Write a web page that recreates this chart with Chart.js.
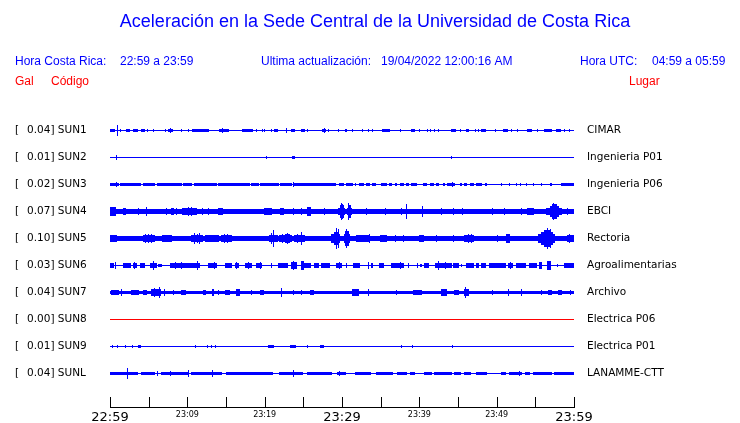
<!DOCTYPE html>
<html><head><meta charset="utf-8">
<script src="https://cdn.jsdelivr.net/npm/chart.js@4.4.1/dist/chart.umd.min.js"></script>
<style>html,body{margin:0;padding:0;background:#fff}#wrap{width:740px;height:423px;position:relative}</style>
</head><body><div id="wrap"><canvas id="c" width="740" height="423"></canvas></div>
<script>
// ---------- data ----------
const chartTitle = 'Aceleración en la Sede Central de la Universidad de Costa Rica';
const localTime = '22:59 a 23:59';
const updated = '19/04/2022 12:00:16 AM';
const utcTime = '04:59 a 05:59';
const codes = ['SUN1','SUN2','SUN3','SUN4','SUN5','SUN6','SUN7','SUN8','SUN9','SUNL'];
const gals = ['0.04','0.01','0.02','0.07','0.10','0.03','0.04','0.00','0.01','0.04'];
const places = ['CIMAR','Ingenieria P01','Ingenieria P06','EBCI','Rectoria','Agroalimentarias','Archivo','Electrica P06','Electrica P01','LANAMME-CTT'];
const tickLabels = ['22:59','','23:09','','23:19','','23:29','','23:39','','23:49','','23:59'];
const majorTicks = [0,6,12];
// background (noise) half-amplitude of each trace, display units
const baseAmp = [0.5,0.5,0.6,2.0,2.0,0.6,1.6,0.5,0.5,0.6];
// bursts: [from minute, to minute, half-amplitude]
const segSUN1 = [[0,0.6,1.3],[0.95,0.95,5.5],[1.3,1.3,1.3],[2.1,2.5,1.3],[3.0,3.5,1.3],[4.1,4.5,1.3],[4.8,4.8,1.3],[5.6,5.6,1.3],[7.2,7.2,1.3],[7.6,8.1,1.4],[7.8,7.8,2.5],[9.2,9.2,1.3],[10.1,10.1,1.3],[10.7,11.4,1.3],[11.6,12.8,1.3],[14.1,15.3,1.3],[14.5,14.5,2],[17.1,18.4,1.3],[19.0,19.0,1.3],[19.7,19.7,1.3],[20.0,20.0,1.3],[20.9,20.9,1.3],[21.3,21.7,1.3],[22.8,22.8,2.5],[23.5,23.9,1.3],[24.8,25.2,1.3],[25.6,25.6,1.3],[27.5,27.9,1.3],[27.7,27.7,2.5],[28.3,28.3,1.3],[29.6,29.6,1.3],[30.4,30.6,1.3],[31.4,31.4,1.3],[32.7,32.7,1.3],[33.4,33.4,1.3],[34.0,34.0,1.3],[35.3,36.2,1.3],[37.5,37.5,1.3],[39.0,39.4,1.3],[40.0,40.0,1.3],[41.0,41.0,1.3],[41.5,41.5,1.3],[41.9,41.9,1.3],[42.5,42.5,1.3],[44.2,44.7,1.3],[45.3,45.3,1.3],[46.1,46.4,1.3],[47.2,47.2,1.3],[47.7,47.7,1.3],[48.1,48.5,1.3],[49.8,49.8,1.3],[50.9,51.4,1.3],[51.9,51.9,1.3],[52.7,52.7,1.3],[54.0,54.5,1.3],[55.3,55.3,1.3],[56.2,57.1,1.3],[57.8,58.2,1.3],[58.8,58.8,1.3],[59.4,59.4,1.3]];
const segSUN2 = [[0.9,0.9,2],[20.2,20.2,1.3],[23.6,23.9,1.5],[44.2,44.2,1.5]];
const segSUN3 = [[0,1.1,1.5],[0.9,0.9,2.7],[1.3,2.2,1.5],[2.4,3.0,1.5],[3.2,4.0,1.5],[4.3,5.8,1.5],[6.2,6.9,1.5],[7.1,7.8,1.5],[8.0,9.2,1.5],[9.5,10.6,1.5],[10.9,13.8,1.5],[14.0,16.2,1.5],[16.4,17.5,1.5],[17.7,18.1,1.5],[18.3,19.2,1.5],[19.4,19.8,1.5],[20.0,21.1,1.5],[21.3,21.8,1.5],[22.0,22.4,1.5],[22.6,23.5,1.5],[23.7,23.7,2.8],[23.9,28.2,1.5],[28.4,29.1,1.5],[29.7,30.2,1.5],[30.6,31.3,1.5],[31.7,31.7,1.5],[32.3,32.8,1.5],[33.2,33.6,1.5],[34.0,34.3,1.5],[35.1,35.8,1.5],[36.2,36.4,1.5],[36.9,37.1,1.5],[37.5,37.9,1.5],[38.4,38.6,1.5],[39.0,39.6,1.5],[40.6,40.9,1.5],[41.4,41.8,1.5],[42.2,42.5,1.5],[43.1,43.3,1.5],[43.7,44.6,1.5],[44.3,44.3,2.5],[45.3,45.5,1.5],[45.9,46.1,1.5],[46.6,47.0,1.5],[47.4,48.1,1.5],[48.5,48.7,1.5],[50.6,50.6,1.5],[51.7,51.7,1.5],[52.6,52.6,1.5],[53.1,53.1,1.5],[53.9,53.9,1.5],[54.7,54.7,1.5],[55.8,55.8,1.5],[56.9,57.1,1.5],[58.4,59.9,1.5]];
const segSUN4 = [[0,0.65,4],[1.7,2.0,3.5],[3.7,3.7,3.5],[4.7,4.7,4.5],[7.3,7.3,3.5],[8.0,8.2,3.5],[8.6,8.6,3.5],[9.4,11.2,3.5],[10.2,10.2,4.5],[10.5,10.5,4.5],[11.9,11.9,3.5],[12.7,12.7,3.5],[14.0,14.6,3.5],[20.0,20.9,3.5],[22.0,22.4,3.5],[23.7,23.7,3.5],[24.8,24.8,3.5],[25.6,25.9,4.5],[27.8,27.8,3.5],[29.6,30.3,3.5],[29.8,30.2,6],[29.9,29.9,8],[30.1,30.1,7.5],[30.7,31.2,3.5],[30.8,31.1,6],[30.9,30.9,8],[33.2,33.2,3.5],[35.6,35.6,3.5],[37.7,37.7,3.5],[38.4,38.4,7.5],[40.4,40.4,5],[42.9,42.9,3.5],[44.4,44.4,3.5],[45.6,45.6,3.5],[49.4,49.4,3.5],[51.0,51.0,3.5],[53.2,53.2,3.5],[54.0,54.7,3],[56.5,58.4,3.5],[56.9,58.0,5.5],[57.2,57.7,7],[57.4,57.4,8],[59.1,59.1,3.5]];
const segSUN5 = [[0,0.9,3.5],[1.2,4.1,2.5],[4.3,5.8,3],[4.6,4.6,4.5],[5.0,5.0,4],[5.4,5.4,4.5],[6.8,8.0,3],[7.2,7.2,3.5],[7.7,7.7,3.5],[10.6,11.9,3.5],[10.9,10.9,5.8],[11.3,11.3,4.5],[11.6,11.6,5],[12.3,14.0,3],[12.8,12.8,3.5],[13.5,13.5,3.5],[14.4,15.7,3.2],[14.8,14.8,4.5],[15.2,15.2,4.5],[17.1,19.4,2.5],[20.6,21.6,3.5],[20.9,20.9,5],[21.2,21.2,8],[21.9,23.5,3.5],[22.3,22.3,4.5],[22.7,23.2,4.5],[22.9,22.9,5.5],[23.9,25.2,3.5],[24.3,24.3,4.5],[24.8,24.8,6],[26.1,28.2,2.5],[28.6,29.7,4],[29.0,29.6,6],[29.3,29.3,10.8],[29.5,29.5,9],[30.3,31.0,4],[30.5,30.8,7],[30.6,30.6,9],[31.9,33.5,3],[33.6,33.6,4.5],[35.0,35.8,3],[36.9,36.9,3.5],[37.9,37.9,3.5],[40.0,40.6,3],[42.2,42.2,3.5],[44.4,44.4,3.5],[45.9,47.0,3.5],[46.3,46.3,4.5],[46.7,46.7,4.5],[50.1,50.1,3.5],[51.3,51.7,4],[55.4,57.5,4],[55.8,57.2,6],[56.2,57.0,8],[56.6,56.6,10],[56.9,56.9,9.5],[59.1,60,3.5],[59.4,59.4,4.5]];
const segSUN6 = [[0,0.4,2],[0.65,0.65,3.5],[1.7,2.7,2],[3.0,3.4,2.5],[3.2,3.2,3.5],[3.9,4.5,2],[5.2,6.0,2.5],[5.6,5.6,4],[6.3,6.7,1.5],[7.8,11.0,2],[8.5,8.5,3],[9.3,9.3,3.5],[9.7,9.7,2.5],[11.2,11.6,2.5],[11.3,11.3,4.7],[12.7,13.8,2],[13.5,13.5,3],[14.9,15.7,2],[16.2,16.6,2],[16.4,16.4,3],[17.5,18.3,2.5],[17.9,17.9,3.5],[19.0,19.6,2],[19.4,19.4,3.5],[20.9,20.9,2],[21.8,22.9,2],[23.5,24.1,3.5],[23.7,23.7,4],[24.8,25.0,4.5],[25.0,25.9,2],[26.5,26.9,2],[27.4,28.4,2],[29.3,29.9,2],[29.7,29.7,3],[30.6,30.6,2.5],[31.5,32.3,2],[33.4,33.4,3],[33.8,34.0,2],[34.9,35.4,2],[36.4,36.9,2],[37.1,37.9,2.5],[37.5,37.5,3],[38.6,38.6,2],[39.7,39.7,2],[40.1,40.3,1.5],[40.7,41.2,2],[42.1,44.2,2.5],[42.5,42.5,4.5],[43.4,43.4,3.5],[44.4,45.0,2],[45.5,45.5,1.5],[46.1,47.0,2.5],[47.4,47.6,2],[48.1,48.5,2],[49.1,51.1,2],[51.5,52.1,2.5],[51.8,51.8,3.5],[52.6,53.7,2.5],[54.3,55.2,2],[55.5,55.8,3.5],[56.6,56.9,4],[57.9,57.9,1.5],[58.8,60,2]];
const segSUN7 = [[0.2,1.1,2.5],[1.5,1.5,3],[2.8,3.7,2.5],[4.3,4.7,2.5],[5.4,6.5,3.5],[5.8,5.8,4.5],[6.4,6.4,5.5],[7.1,7.1,3],[8.2,8.2,2.5],[9.3,9.7,2.5],[12.1,12.3,2.5],[13.2,13.4,3.5],[14.0,14.0,2.5],[14.9,15.5,2.5],[16.4,16.8,3.5],[18.3,18.3,2.5],[19.4,19.8,2.5],[22.2,22.2,4.5],[23.7,23.7,2.5],[24.8,24.8,2],[25.9,26.3,2.5],[31.3,32.1,3],[33.4,33.4,3.5],[37.1,37.1,2.5],[39.2,40.3,2.5],[42.9,43.5,3.5],[44.6,45.0,2.5],[45.9,46.3,3],[46.0,46.0,5.5],[49.4,49.4,2.5],[51.5,51.5,3],[53.2,53.2,3],[55.8,55.8,2.5],[56.7,57.1,2.5],[58.0,58.4,2.5],[59.5,59.5,2.5]];
const segSUN8 = [];
const segSUN9 = [[0.3,0.3,1.5],[0.95,0.95,1.5],[2.0,2.0,1.5],[2.9,2.9,1.5],[3.7,4.0,1.5],[11.1,11.1,1.5],[12.6,12.6,1.5],[13.1,13.1,1.5],[13.6,13.6,1.5],[20.5,21.1,1.5],[23.4,24.0,1.5],[25.6,25.6,1.5],[27.2,27.6,1.5],[37.7,37.7,1.2],[39.1,39.1,1.2],[44.3,44.3,1.8]];
const segSUNL = [[0,3.5,1.6],[2.2,2.2,5],[4.1,5.8,1.6],[6.2,6.2,2.5],[6.7,10.1,1.6],[7.8,7.8,2.5],[10.2,10.2,3.5],[10.6,14.4,1.6],[13.2,13.2,3],[15.1,21.0,1.6],[21.9,24.9,1.6],[23.7,23.7,3],[25.5,28.6,1.6],[29.4,30.5,1.6],[29.7,29.7,2.5],[31.8,33.7,1.6],[34.4,36.5,1.6],[37.2,38.3,1.6],[38.9,39.4,1.6],[40.7,41.6,1.5],[42.0,44.2,1.5],[44.6,45.3,1.5],[45.9,46.6,1.5],[47.4,48.7,1.5],[50.6,51.1,1.5],[51.7,53.2,1.5],[52.9,52.9,2.5],[53.7,54.3,1.5],[54.7,57.1,1.5],[57.5,60,1.5]];
const segments = [segSUN1,segSUN2,segSUN3,segSUN4,segSUN5,segSUN6,segSUN7,segSUN8,segSUN9,segSUNL];

// ---------- build ----------
// one sample column per screen pixel of the 60-minute window (like the original plot)
const NBINS = 464, BIN = 60 / NBINS, ROW = 27;
const BLUE = '#0000ff', RED = '#ff0000';
const snap = h => Math.max(0.5, Math.round(h - 0.5) + 0.5); // whole-pixel trace heights
function buildTrace(i) {
  const env = new Array(NBINS).fill(baseAmp[i]);
  segments[i].forEach(([a, b, amp]) => {
    const k0 = Math.max(0, Math.floor(a / BIN));
    const k1 = Math.min(NBINS - 1, Math.floor(b / BIN));
    for (let k = k0; k <= k1; k++) env[k] = Math.max(env[k], amp);
  });
  const c = i * ROW;
  return env.map((h, k) => ({ x: k * BIN + BIN / 2, y: [c - snap(h), c + snap(h)] }));
}
const datasets = codes.map((code, i) => ({
  label: code,
  data: buildTrace(i),
  backgroundColor: i === 7 ? RED : BLUE,
  borderWidth: 0,
  barPercentage: 1,
  categoryPercentage: 1,
  grouped: false,
  inflateAmount: 0
}));

const textPlugin = {
  id: 'texts',
  afterDraw(chart) {
    const ctx = chart.ctx;
    const xs = chart.scales.x, ys = chart.scales.y;
    ctx.save();
    // upward tick marks
    ctx.strokeStyle = '#000'; ctx.lineWidth = 1;
    const bottom = chart.chartArea.bottom;
    xs.ticks.forEach(t => {
      const px = Math.round(xs.getPixelForValue(t.value)) + 0.5;
      ctx.beginPath(); ctx.moveTo(px, bottom - 10); ctx.lineTo(px, bottom); ctx.stroke();
    });
    // title
    ctx.fillStyle = BLUE; ctx.textAlign = 'center'; ctx.textBaseline = 'alphabetic';
    ctx.font = '18px "Liberation Sans", Arial, sans-serif';
    ctx.fillText(chartTitle, 375, 27);
    // header line
    ctx.textAlign = 'left';
    ctx.font = '12px "Liberation Sans", Arial, sans-serif';
    ctx.fillText('Hora Costa Rica:', 15, 65);
    ctx.fillText(localTime, 120, 65);
    ctx.fillText('Ultima actualización:', 261, 65);
    ctx.fillText(updated, 381, 65);
    ctx.fillText('Hora UTC:', 580, 65);
    ctx.fillText(utcTime, 652, 65);
    ctx.fillStyle = RED;
    ctx.fillText('Gal', 15, 84.5);
    ctx.fillText('Código', 51, 84.5);
    ctx.fillText('Lugar', 629, 84.5);
    // row labels
    ctx.fillStyle = '#000'; ctx.textBaseline = 'middle';
    ctx.font = '10.5px "DejaVu Sans", sans-serif';
    codes.forEach((code, i) => {
      const py = ys.getPixelForValue(i * ROW);
      ctx.fillText('[', 15, py);
      ctx.fillText(gals[i] + '] ' + code, 27, py);
      ctx.fillText(places[i], 587, py);
    });
    ctx.restore();
  }
};

new Chart(document.getElementById('c'), {
  type: 'bar',
  data: { datasets },
  options: {
    responsive: false, animation: false, devicePixelRatio: 1,
    layout: { padding: { left: 110, right: 166, top: 117, bottom: 0 } },
    plugins: { legend: { display: false }, tooltip: { enabled: false }, title: { display: false } },
    scales: {
      x: {
        type: 'linear', min: 0, max: 60, offset: false,
        grid: { display: true, drawOnChartArea: false, drawTicks: false, offset: false },
        border: { display: true, color: '#000', width: 1 },
        ticks: {
          stepSize: 5, autoSkip: false, maxRotation: 0, minRotation: 0, padding: 3, color: '#000',
          font: (ctx) => ({ family: '"DejaVu Sans", sans-serif', size: majorTicks.includes(ctx.index) ? 13 : 8 }),
          callback: (v, i) => tickLabels[i]
        },
        afterFit: (s) => { s.height = 16; }
      },
      y: { type: 'linear', display: false, reverse: true, min: -13.5, max: 276.5 }
    }
  },
  plugins: [textPlugin]
});
</script>
</body></html>
